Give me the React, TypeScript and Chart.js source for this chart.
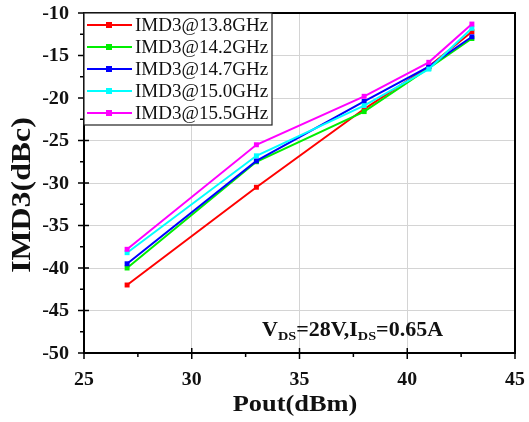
import React, { useEffect, useRef } from "react";
import { Chart, registerables } from "chart.js";

Chart.register(...registerables);

const pout = [27, 33, 38, 41, 43];
const imd138 = [-42.0, -30.5, -21.3, -16.3, -12.2];
const imd142 = [-40.0, -27.5, -21.6, -16.5, -13.0];
const imd147 = [-39.5, -27.4, -20.4, -16.3, -12.8];
const imd150 = [-38.2, -26.8, -20.9, -16.6, -11.8];
const imd155 = [-37.8, -25.5, -19.8, -15.8, -11.3];
const seriesLabels = ["IMD3@13.8GHz", "IMD3@14.2GHz", "IMD3@14.7GHz", "IMD3@15.0GHz", "IMD3@15.5GHz"];
const seriesColors = ["#ff0000", "#00ee00", "#0000ff", "#00ffff", "#ff00ff"];
const seriesValues = [imd138, imd142, imd147, imd150, imd155];
const xTicks = [25, 30, 35, 40, 45];
const yTicks = [-50, -45, -40, -35, -30, -25, -20, -15, -10];
const xTitle = "Pout(dBm)";
const yTitle = "IMD3(dBc)";

const SERIF = "'Liberation Serif', 'Times New Roman', serif";

function drawText(
  ctx: CanvasRenderingContext2D,
  text: string,
  x: number,
  y: number,
  font: string,
  align: CanvasTextAlign,
  baseline: CanvasTextBaseline,
  sx: number,
  rot = 0
) {
  ctx.save();
  ctx.translate(x, y);
  if (rot) ctx.rotate(rot);
  ctx.scale(sx, 1);
  ctx.font = font;
  ctx.textAlign = align;
  ctx.textBaseline = baseline;
  ctx.fillText(text, 0, 0);
  ctx.restore();
}

const framePlugin = {
  id: "frame",
  afterDraw(chart: any) {
    const { ctx, chartArea: a, scales } = chart;
    const xs = scales.x;
    const ys = scales.y;
    ctx.save();
    ctx.strokeStyle = "#000";
    ctx.lineWidth = 2;
    ctx.strokeRect(a.left, a.top, a.right - a.left, a.bottom - a.top);
    ctx.lineWidth = 1.5;
    for (let v = -50; v <= -10; v += 2.5) {
      const y = ys.getPixelForValue(v);
      const major = Math.abs(v % 5) < 1e-6;
      ctx.beginPath();
      if (major) {
        ctx.moveTo(a.left - 6, y);
        ctx.lineTo(a.left + 5, y);
      } else {
        ctx.moveTo(a.left - 4, y);
        ctx.lineTo(a.left, y);
      }
      ctx.stroke();
    }
    for (let v = 25; v <= 45; v += 2.5) {
      const x = xs.getPixelForValue(v);
      const major = Math.abs(v % 5) < 1e-6;
      ctx.beginPath();
      if (major) {
        ctx.moveTo(x, a.bottom - 5);
        ctx.lineTo(x, a.bottom + 6);
      } else {
        ctx.moveTo(x, a.bottom);
        ctx.lineTo(x, a.bottom + 4);
      }
      ctx.stroke();
    }
    ctx.fillStyle = "#111";
    const tickFont = `bold 18px ${SERIF}`;
    for (const v of yTicks) {
      drawText(ctx, String(v), a.left - 15, ys.getPixelForValue(v) + 1, tickFont, "right", "middle", 1.12);
    }
    for (const v of xTicks) {
      drawText(ctx, String(v), xs.getPixelForValue(v), a.bottom + 27, tickFont, "center", "middle", 1.1);
    }
    drawText(ctx, xTitle, 295, 405, `bold 24px ${SERIF}`, "center", "middle", 1.1);
    drawText(ctx, yTitle, 23, 195, `bold 27px ${SERIF}`, "center", "middle", 1.18, -Math.PI / 2);

    // legend
    const lx = a.left;
    const ly = a.top;
    const lw = 188;
    const rowH = 22;
    const lh = 112;
    ctx.fillStyle = "#fff";
    ctx.fillRect(lx, ly, lw, lh);
    ctx.strokeStyle = "#222";
    ctx.lineWidth = 1.2;
    ctx.strokeRect(lx, ly, lw, lh);
    for (let i = 0; i < seriesLabels.length; i++) {
      const cy = ly + 12 + i * rowH;
      ctx.strokeStyle = seriesColors[i];
      ctx.lineWidth = 2;
      ctx.beginPath();
      ctx.moveTo(lx + 3, cy);
      ctx.lineTo(lx + 48, cy);
      ctx.stroke();
      ctx.fillStyle = seriesColors[i];
      ctx.fillRect(lx + 22, cy - 3, 6, 6);
      ctx.fillStyle = "#111";
      drawText(ctx, seriesLabels[i], lx + 51, cy + 1, `19px ${SERIF}`, "left", "middle", 1.0);
    }
    // annotation
    let tx = 262;
    const by = 336;
    const sx = 1.1;
    ctx.fillStyle = "#111";
    const parts: [string, boolean][] = [["V", false], ["DS", true], ["=28V,I", false], ["DS", true], ["=0.65A", false]];
    for (const [t, sub] of parts) {
      const f = sub ? `bold 13px ${SERIF}` : `bold 20px ${SERIF}`;
      ctx.font = f;
      const w = ctx.measureText(t).width * sx;
      drawText(ctx, t, tx, sub ? by + 4 : by, f, "left", "alphabetic", sx);
      tx += w;
    }
    ctx.restore();
  },
};

export default function App() {
  const ref = useRef<HTMLCanvasElement>(null);
  useEffect(() => {
    const canvas = ref.current;
    if (!canvas) return;
    const orders = [4, 3, 2, 1, 0];
    const chart = new Chart(canvas, {
      type: "line",
      data: {
        datasets: seriesValues.map((vals, i) => ({
          label: seriesLabels[i],
          data: vals.map((v, j) => ({ x: pout[j], y: v })),
          borderColor: seriesColors[i],
          backgroundColor: seriesColors[i],
          borderWidth: 2,
          pointStyle: "rect",
          pointRadius: 3.5,
          pointBorderWidth: 0,
          order: orders[i],
          tension: 0,
        })),
      },
      options: {
        responsive: false,
        animation: false,
        devicePixelRatio: 1,
        layout: { padding: { top: 13, right: 14, left: 0, bottom: 0 } },
        plugins: { legend: { display: false }, tooltip: { enabled: false } },
        scales: {
          x: {
            type: "linear",
            min: 25,
            max: 45,
            afterBuildTicks: (s: any) => {
              s.ticks = xTicks.map((v) => ({ value: v }));
            },
            afterFit: (s: any) => {
              s.height = 69;
            },
            ticks: { display: false },
            grid: { color: "#d4d4d4", lineWidth: 1, drawTicks: false },
            border: { display: false },
            title: { display: false },
          },
          y: {
            type: "linear",
            min: -50,
            max: -10,
            afterBuildTicks: (s: any) => {
              s.ticks = yTicks.map((v) => ({ value: v }));
            },
            afterFit: (s: any) => {
              s.width = 84;
            },
            ticks: { display: false },
            grid: { color: "#d4d4d4", lineWidth: 1, drawTicks: false },
            border: { display: false },
            title: { display: false },
          },
        },
      },
      plugins: [framePlugin],
    });
    return () => chart.destroy();
  }, []);
  return (
    <div style={{ position: "absolute", left: 0, top: 0, width: 529, height: 422, background: "#fff" }}>
      <canvas ref={ref} width={529} height={422} />
    </div>
  );
}
